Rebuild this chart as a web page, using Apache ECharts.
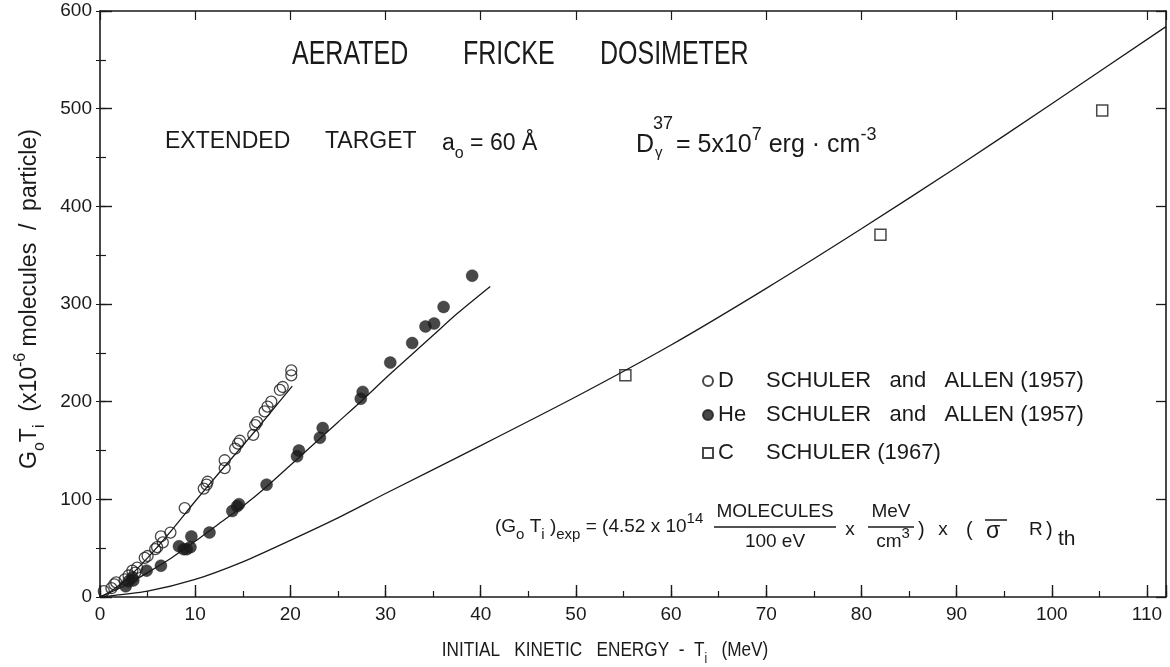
<!DOCTYPE html>
<html>
<head>
<meta charset="utf-8">
<script src="https://cdn.jsdelivr.net/npm/echarts@6/dist/echarts.min.js"></script>
<style>html,body{margin:0;padding:0;background:#fff}#c{width:1170px;height:667px}</style>
</head>
<body>
<div id="c"></div>
<script>
// ---- data ----
var dX = [0.4,1.2,1.5,1.7,2.6,3.0,3.4,3.7,3.9,4.7,5.0,5.8,6.0,6.4,6.6,7.4,8.9,10.9,11.2,11.3,13.1,13.1,14.2,14.5,14.7,16.1,16.3,16.5,17.3,17.6,18.0,18.9,19.2,20.1,20.1];
var dY = [6,9,13,15,18,22,27,25,30,40,42,49,51,62,56,66,91,111,115,118,132,140,152,157,160,166,176,179,190,195,200,212,215,227,232];
var heX = [2.7,3.0,3.4,3.5,4.9,6.4,8.3,8.8,9.1,9.5,9.6,11.5,13.9,14.4,14.6,17.5,20.7,20.9,23.1,23.4,27.4,27.6,30.5,32.8,34.2,35.1,36.1,39.1];
var heY = [11,16,20,17,27,32,52,49,49,51,62,66,88,93,95,115,144,150,163,173,203,210,240,260,277,280,297,329];
var cX = [55.2,82.0,105.3];
var cY = [227,371,498];
var dCurveX = [0,1,2,3,5,7.5,10,12.5,15,17.5,20.2];
var dCurveY = [0,5,12,20,40,68,98,127,155,184,216];
var heCurveX = [0,2.5,5,7.5,10,12.5,15,17.5,20,22.5,25,27.5,30,32.5,35,37.5,41];
var heCurveY = [0,11,25,40,57,75,93,113,135,157,179,201,224,246,268,290,318];
var cCurveX = [0,5,10,15,20,25,30,40,50,60,70,80,90,100,112];
var cCurveY = [0,6,18,36,58,81,106,155,205,258,316,377,440,505,584];
var xTicks = [0,10,20,30,40,50,60,70,80,90,100,110];
var yTicks = [0,100,200,300,400,500,600];

function pairs(xs, ys){ return xs.map(function(x,i){ return [x, ys[i]]; }); }

var INK = '#1a1a1a';
var FONT = 'Liberation Sans';
var richBase = function(fs, ss){
  ss = ss || Math.round(fs*0.68);
  return {
    n:{fontSize:fs, lineHeight:fs+12, fontFamily:FONT, color:INK},
    sub:{fontSize:ss, lineHeight:ss, verticalAlign:'bottom', fontFamily:FONT, color:INK},
    sup:{fontSize:ss, lineHeight:ss, verticalAlign:'top', fontFamily:FONT, color:INK}
  };
};
function txt(x, y, s, fs, align, extra){
  var o = {type:'text', x:x, y:y, silent:true, z:10,
    style:{text:s, fill:INK, font:fs+'px "'+FONT+'"', align:align||'left', verticalAlign:'middle'}};
  if (extra) for (var k in extra) o[k] = extra[k];
  return o;
}
function rtxt(x, y, s, fs, align, extra, ss){
  var o = {type:'text', x:x, y:y, silent:true, z:10,
    style:{text:s, rich:richBase(fs, ss), fill:INK, font:fs+'px "'+FONT+'"', align:align||'left', verticalAlign:'middle'}};
  if (extra) for (var k in extra) o[k] = extra[k];
  return o;
}
function hline(x1, x2, y, w){
  return {type:'line', silent:true, z:10, shape:{x1:x1,y1:y,x2:x2,y2:y}, style:{stroke:INK, lineWidth:w||1.4}};
}

var axisLineStyle = {color:INK, width:1.6};
var chart = echarts.init(document.getElementById('c'));
var lineCommon = {type:'line', showSymbol:false, silent:true, smooth:0.25,
  lineStyle:{color:INK, width:1.3}, z:3};
var legRich = {a:{width:48, fontSize:22, fontFamily:FONT, color:INK}, b:{fontSize:22, fontFamily:FONT, color:INK}};

chart.setOption({
  animation:false,
  backgroundColor:'#fff',
  grid:{left:100, right:4, top:11, bottom:70, containLabel:false},
  xAxis:[
    {type:'value', min:0, max:112, interval:10, position:'bottom',
     axisLine:{show:true, onZero:false, lineStyle:axisLineStyle},
     axisTick:{show:true, inside:true, length:12, lineStyle:{color:INK, width:1.4}},
     splitLine:{show:false},
     axisLabel:{margin:8, fontSize:19, fontFamily:FONT, color:INK,
       formatter:function(v){ return xTicks.indexOf(v) >= 0 ? String(v) : ''; }}},
    {type:'value', min:0, max:112, interval:5, position:'bottom',
     axisLine:{show:false}, axisTick:{show:true, inside:true, length:6, lineStyle:{color:INK, width:1.2}},
     splitLine:{show:false}, axisLabel:{show:false}},
    {type:'value', min:0, max:112, interval:10, position:'top',
     axisLine:{show:true, onZero:false, lineStyle:axisLineStyle},
     axisTick:{show:true, inside:true, length:9, lineStyle:{color:INK, width:1.2}},
     splitLine:{show:false}, axisLabel:{show:false}}
  ],
  yAxis:[
    {type:'value', min:0, max:600, interval:100, position:'left',
     axisLine:{show:true, onZero:false, lineStyle:axisLineStyle},
     axisTick:{show:true, inside:true, length:12, lineStyle:{color:INK, width:1.4}},
     splitLine:{show:false},
     axisLabel:{margin:8, fontSize:19, fontFamily:FONT, color:INK,
       formatter:function(v){ return yTicks.indexOf(v) >= 0 ? String(v) : ''; }}},
    {type:'value', min:0, max:600, interval:50, position:'left',
     axisLine:{show:false}, axisTick:{show:true, inside:true, length:6, lineStyle:{color:INK, width:1.2}},
     splitLine:{show:false}, axisLabel:{show:false}},
    {type:'value', min:0, max:600, interval:100, position:'right',
     axisLine:{show:true, onZero:false, lineStyle:axisLineStyle},
     axisTick:{show:true, inside:true, length:10, lineStyle:{color:INK, width:1.3}},
     splitLine:{show:false}, axisLabel:{show:false}},
    {type:'value', min:0, max:600, interval:50, position:'right',
     axisLine:{show:false}, axisTick:{show:true, inside:true, length:4, lineStyle:{color:INK, width:1}},
     splitLine:{show:false}, axisLabel:{show:false}}
  ],
  legend:[
    {data:['D'], left:697, top:365, orient:'vertical', selectedMode:false, itemWidth:10, itemHeight:10, itemGap:0,
     formatter:function(){ return '{a|D}{b|SCHULER   and   ALLEN (1957)}'; }, textStyle:{rich:legRich}},
    {data:['He'], left:697, top:399, orient:'vertical', selectedMode:false, itemWidth:10, itemHeight:10, itemGap:0,
     formatter:function(){ return '{a|He}{b|SCHULER   and   ALLEN (1957)}'; }, textStyle:{rich:legRich}},
    {data:['C'], left:697, top:437, orient:'vertical', selectedMode:false, itemWidth:10, itemHeight:10, itemGap:0,
     formatter:function(){ return '{a|C}{b|SCHULER (1967)}'; }, textStyle:{rich:legRich}}
  ],
  series:[
    Object.assign({name:'D curve', data:pairs(dCurveX, dCurveY)}, lineCommon),
    Object.assign({name:'He curve', data:pairs(heCurveX, heCurveY)}, lineCommon),
    Object.assign({name:'C curve', data:pairs(cCurveX, cCurveY)}, lineCommon),
    {name:'D', type:'scatter', data:pairs(dX, dY), symbol:'circle', symbolSize:11, z:5,
     itemStyle:{color:'rgba(255,255,255,0)', borderColor:INK, borderWidth:1.3}},
    {name:'He', type:'scatter', data:pairs(heX, heY), symbol:'circle', symbolSize:12, z:5,
     itemStyle:{color:INK, borderColor:INK, borderWidth:0.5}},
    {name:'C', type:'scatter', data:pairs(cX, cY), symbol:'rect', symbolSize:11, z:5,
     itemStyle:{color:'rgba(255,255,255,0)', borderColor:INK, borderWidth:1.5}}
  ],
  graphic:[
    // title
    txt(292, 55, 'AERATED', 25, 'left', {scaleY:1.3}),
    txt(463, 55, 'FRICKE', 25, 'left', {scaleY:1.3}),
    txt(600, 55, 'DOSIMETER', 25, 'left', {scaleY:1.3}),
    // second row
    txt(165, 142, 'EXTENDED', 23),
    txt(325, 142, 'TARGET', 23),
    rtxt(442, 144, '{n|a}{sub|o}{n| = 60 Å}', 23),
    txt(636, 145, 'D', 25),
    txt(655, 153, 'γ', 15),
    txt(653, 124, '37', 18),
    rtxt(676, 145, '{n|= 5x10}{sup|7}{n| erg · cm}{sup|-3}', 25, 'left', null, 18),
    // formula
    rtxt(495, 527, '{n|(G}{sub|o}{n| T}{sub|i}{n| )}{sub|exp}{n| = (4.52 x 10}{sup|14}', 19, 'left', null, 15),
    txt(775, 512, 'MOLECULES', 19, 'center'),
    hline(714, 836, 527),
    txt(775, 542, '100 eV', 19, 'center'),
    txt(850, 530, 'x', 19, 'center'),
    txt(891, 512, 'MeV', 19, 'center'),
    hline(868, 914, 527),
    rtxt(893, 542, '{n|cm}{sup|3}', 19, 'center', null, 15),
    txt(918, 530, ')', 20),
    txt(943, 530, 'x', 19, 'center'),
    txt(966, 530, '(', 20),
    txt(986, 532, 'σ', 23),
    hline(985, 1007, 520, 1.5),
    txt(1029, 530, 'R', 19),
    txt(1046, 530, ')', 20),
    txt(1058, 539, 'th', 21),
    // axis titles
    rtxt(605, 650, '{n|INITIAL   KINETIC   ENERGY  -  T}{sub|i}{n|   (MeV)}', 20, 'center', {scaleX:0.86}),
    rtxt(30, 299, '{n|G}{sub|o}{n|T}{sub|i}{n|  (x10}{sup|-6}{n| molecules  /  particle)}', 23, 'center', {rotation:Math.PI/2}, 16)
  ]
});
</script>
</body>
</html>
